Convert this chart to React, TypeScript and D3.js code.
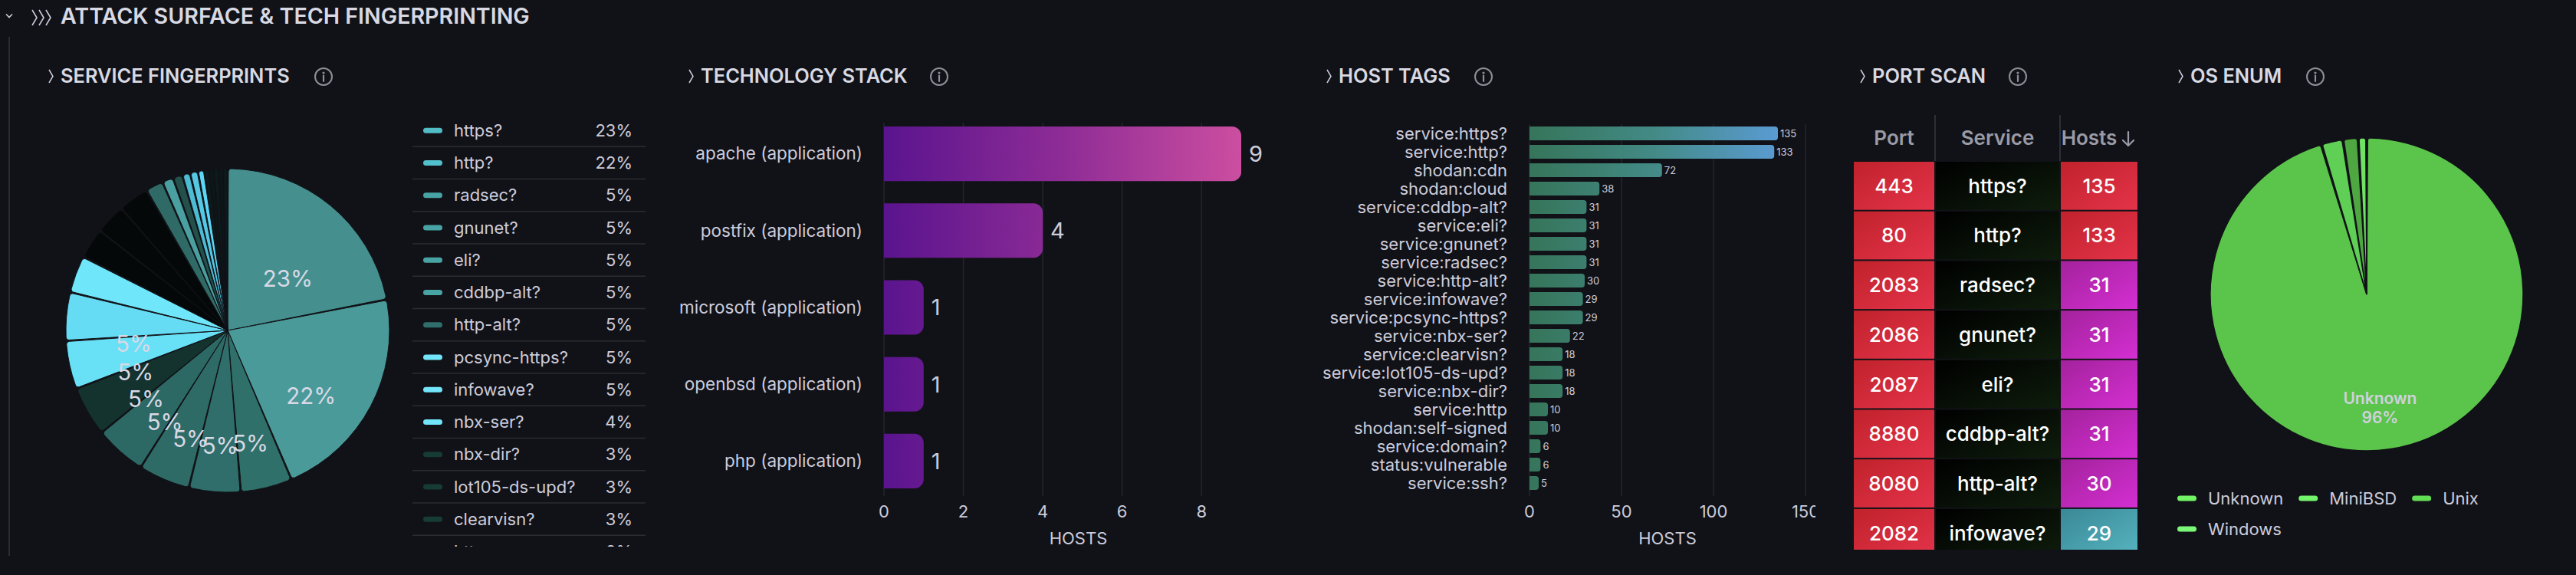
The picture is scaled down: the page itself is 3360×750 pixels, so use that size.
import React from 'react';
import * as d3 from 'd3';

// ---------------- DATA ----------------
const serviceNames = ['https?', 'http?', 'radsec?', 'gnunet?', 'eli?', 'cddbp-alt?', 'http-alt?', 'pcsync-https?', 'infowave?', 'nbx-ser?', 'nbx-dir?', 'lot105-ds-upd?', 'clearvisn?', 'http', 'domain?', 'ssh?', 'smtp?', 'imap?', 'ftp?', 'pop3?', 'mysql?', 'rdp?', 'telnet?', 'snmp?'];
const serviceCounts = [135, 133, 31, 31, 31, 31, 30, 29, 29, 22, 18, 18, 18, 10, 6, 5, 4, 4, 3, 2, 2, 2, 2, 2];

const techNames = ['apache (application)', 'postfix (application)', 'microsoft (application)', 'openbsd (application)', 'php (application)'];
const techHosts = [9, 4, 1, 1, 1];
const techTicks = [0, 2, 4, 6, 8];

const tagNames = ['service:https?', 'service:http?', 'shodan:cdn', 'shodan:cloud', 'service:cddbp-alt?', 'service:eli?', 'service:gnunet?', 'service:radsec?', 'service:http-alt?', 'service:infowave?', 'service:pcsync-https?', 'service:nbx-ser?', 'service:clearvisn?', 'service:lot105-ds-upd?', 'service:nbx-dir?', 'service:http', 'shodan:self-signed', 'service:domain?', 'status:vulnerable', 'service:ssh?'];
const tagHosts = [135, 133, 72, 38, 31, 31, 31, 31, 30, 29, 29, 22, 18, 18, 18, 10, 10, 6, 6, 5];
const tagTicks = [0, 50, 100, 150];

const portNumbers = [443, 80, 2083, 2086, 2087, 8880, 8080, 2082];
const portServices = ['https?', 'http?', 'radsec?', 'gnunet?', 'eli?', 'cddbp-alt?', 'http-alt?', 'infowave?'];
const portHosts = [135, 133, 31, 31, 31, 31, 30, 29];

const osNames = ['Unknown', 'MiniBSD', 'Unix', 'Windows'];
const osCounts = [139, 3, 2, 1];

// ---------------- STYLE ----------------
const FONT = 'Inter, "Noto Sans", sans-serif';
const BG = '#111217';
const TXT = '#ccccdc';
const TITLE = '#d8d9e3';
const GRID = '#24262c';

const servicePieColors = ['#45908e', '#4a9a9a', '#30706a', '#2f6e6a', '#2e6b67', '#2c6864', '#14322e', '#68e0f6', '#66dcf4', '#70e6fa', '#040809', '#040809', '#040809', '#2f6a66', '#4aa0a0', '#24504c', '#4cbcd4', '#55c8e4', '#5ad8f8', '#0c1c1c', '#0a1818', '#0c1c1c', '#0a1818', '#0c1c1c'];
const serviceLegendColors = ['#52bcc6', '#52c0cc', '#48a4a4', '#48a4a4', '#48a4a4', '#48a4a4', '#2f6e6a', '#73e5fa', '#73e5fa', '#73e5fa', '#173b37', '#173b37', '#173b37', '#48a4a4', '#5ab0b0', '#2f5e5a', '#5ccde6', '#62d5ee', '#6adcf6', '#173b37', '#173b37', '#173b37', '#173b37', '#173b37'];
const osPieColors = ['#5ac44b', '#5fd055', '#4ea741', '#6fe264'];
const osLegendColors = ['#72f466', '#74f46c', '#62de55', '#7cf878'];

function centerColor(c: string) {
  const h = d3.hsl(c);
  h.h = (isNaN(h.h) ? 0 : h.h) + 12;
  h.l = Math.max(0, h.l - 0.1);
  return h.formatHex();
}

let _ctx: CanvasRenderingContext2D | null = null;
function measure(t: string, font: string) {
  if (!_ctx) _ctx = document.createElement('canvas').getContext('2d');
  if (!_ctx) return t.length * 11;
  _ctx.font = font;
  return _ctx.measureText(t).width;
}

function rightRounded(x0: number, y0: number, w: number, h: number, r: number) {
  const rr = Math.min(r, w, h / 2);
  return `M${x0},${y0} H${x0 + w - rr} A${rr},${rr} 0 0 1 ${x0 + w},${y0 + rr} V${y0 + h - rr} A${rr},${rr} 0 0 1 ${x0 + w - rr},${y0 + h} H${x0} Z`;
}

function InfoIcon({ cx, cy }: { cx: number; cy: number }) {
  return (
    <g>
      <circle cx={cx} cy={cy} r={11} fill="none" stroke="#8e8e9a" strokeWidth={2} />
      <circle cx={cx} cy={cy - 5} r={1.6} fill="#8e8e9a" />
      <line x1={cx} y1={cy - 1.5} x2={cx} y2={cy + 6} stroke="#8e8e9a" strokeWidth={2.2} strokeLinecap="round" />
    </g>
  );
}

function PanelTitle({ x, label, iconX }: { x: number; label: string; iconX: number }) {
  return (
    <g>
      <path d={`M${x - 15},91 L${x - 10},99.5 L${x - 15},108`} fill="none" stroke={TXT} strokeWidth={1.5} />
      <text x={x} y={108} fontSize={25.4} fontWeight={600} fill={TITLE} fontFamily={FONT}>{label}</text>
      <InfoIcon cx={iconX} cy={100} />
    </g>
  );
}

// ---------------- SERVICE PIE ----------------
function ServicePie() {
  const cx = 297, cy = 431, R = 211;
  const total = d3.sum(serviceCounts);
  const arcs = d3.pie<number>().sort(null).value(d => d).padAngle(0.009)(serviceCounts);
  const arc = d3.arc<d3.PieArcDatum<number>>().innerRadius(0).outerRadius(R).cornerRadius(4);
  const lr = (R + R / 6) / 2;
  const fs = 29.5;
  const rowH = 42.25, row0 = 149;
  return (
    <g>
      <defs>
        {servicePieColors.map((c, i) => (
          <radialGradient key={i} id={`sp${i}`} gradientUnits="userSpaceOnUse" cx={cx} cy={cy} r={R}>
            <stop offset="0" stopColor={centerColor(c)} />
            <stop offset="1" stopColor={c} />
          </radialGradient>
        ))}
        <clipPath id="legClip"><rect x={530} y={140} width={330} height={573} /></clipPath>
      </defs>
      <g transform={`translate(${cx},${cy})`}>
        {arcs.map((a, i) => (
          <path key={i} d={arc(a) || ''} fill={`url(#sp${i})`} stroke={BG} strokeWidth={1} />
        ))}
        {arcs.map((a, i) => {
          if (a.endAngle - a.startAngle < 0.3) return null;
          const m = (a.startAngle + a.endAngle) / 2 - Math.PI / 2;
          const x = Math.cos(m) * lr, y = Math.sin(m) * lr;
          return (
            <text key={i} x={x} y={y + fs * 1.3} fontSize={fs} fill="#d8d9e6" textAnchor="middle" fontFamily={FONT}>
              {Math.round((serviceCounts[i] / total) * 100)}%
            </text>
          );
        })}
      </g>
      <g clipPath="url(#legClip)">
        {serviceNames.map((n, i) => {
          const yc = row0 + i * rowH + rowH / 2;
          return (
            <g key={n}>
              <rect x={552} y={yc - 3.5} width={25} height={7} rx={3.5} fill={serviceLegendColors[i]} />
              <text x={592} y={yc} dy="0.35em" fontSize={22} fill={TXT} fontFamily={FONT}>{n}</text>
              <text x={825} y={yc} dy="0.35em" fontSize={22} fill={TXT} textAnchor="end" fontFamily={FONT}>
                {Math.round((serviceCounts[i] / total) * 100)}%
              </text>
              <line x1={538} x2={842} y1={row0 + (i + 1) * rowH} y2={row0 + (i + 1) * rowH} stroke="#2a2c33" strokeWidth={1.5} />
            </g>
          );
        })}
      </g>
    </g>
  );
}

// ---------------- TECH STACK ----------------
function TechStack() {
  const x = d3.scaleLinear().domain([0, 9]).range([1153, 1619]);
  const y = d3.scaleBand<string>().domain(techNames).range([150, 652]).paddingInner(0.29).paddingOuter(0.15);
  const panelRight = 1660;
  return (
    <g>
      <defs>
        <linearGradient id="techGrad" gradientUnits="userSpaceOnUse" x1={x(0)} x2={x(9)} y1={0} y2={0}>
          <stop offset="0" stopColor="#5a148e" />
          <stop offset="0.5" stopColor="#8e2c96" />
          <stop offset="1" stopColor="#cc4ea0" />
        </linearGradient>
      </defs>
      {techTicks.map(t => (
        <line key={t} x1={x(t)} x2={x(t)} y1={160} y2={647} stroke={GRID} strokeWidth={1.5} />
      ))}
      {techNames.map((n, i) => {
        const y0 = y(n)!;
        const bw = x(techHosts[i]) - x(0);
        return (
          <g key={n}>
            <path d={rightRounded(x(0), y0, bw, y.bandwidth(), 12)} fill="url(#techGrad)" />
            <text x={1125} y={y0 + y.bandwidth() / 2} dy="0.35em" fontSize={22.5} fill={TXT} textAnchor="end" fontFamily={FONT}>{n}</text>
            <text x={x(techHosts[i]) + 10} y={y0 + y.bandwidth() / 2} dy="0.36em" fontSize={29} fill={TXT} fontFamily={FONT}>{techHosts[i]}</text>
          </g>
        );
      })}
      {techTicks.map(t => (
        <text key={t} x={x(t)} y={675} fontSize={22} fill={TXT} textAnchor="middle" fontFamily={FONT}>{t}</text>
      ))}
      <text x={(x(0) + panelRight) / 2} y={710} fontSize={22} fill={TXT} textAnchor="middle" fontFamily={FONT}>HOSTS</text>
    </g>
  );
}

// ---------------- HOST TAGS ----------------
function HostTags() {
  const x = d3.scaleLinear().domain([0, 150]).range([1995, 2355]);
  const y = d3.scaleBand<string>().domain(tagNames).range([162, 642]).paddingInner(0.25).paddingOuter(0.125);
  const maxV = d3.max(tagHosts) || 1;
  return (
    <g>
      <defs>
        <linearGradient id="tagGrad" gradientUnits="userSpaceOnUse" x1={x(0)} x2={x(maxV)} y1={0} y2={0}>
          <stop offset="0" stopColor="#36755a" />
          <stop offset="0.5" stopColor="#438a86" />
          <stop offset="1" stopColor="#5a9bd2" />
        </linearGradient>
        <clipPath id="tagClip"><rect x={1700} y={120} width={668} height={630} /></clipPath>
      </defs>
      <g clipPath="url(#tagClip)">
        {tagTicks.map(t => (
          <line key={t} x1={x(t)} x2={x(t)} y1={162} y2={647} stroke={GRID} strokeWidth={1.5} />
        ))}
        {tagNames.map((n, i) => {
          const y0 = y(n)!;
          return (
            <g key={n}>
              <path d={rightRounded(x(0), y0, x(tagHosts[i]) - x(0), y.bandwidth(), 4)} fill="url(#tagGrad)" />
              <text x={1966} y={y0 + y.bandwidth() / 2} dy="0.35em" fontSize={22} fill={TXT} textAnchor="end" fontFamily={FONT}>{n}</text>
              <text x={x(tagHosts[i]) + 3} y={y0 + y.bandwidth() / 2} dy="0.36em" fontSize={13} fill={TXT} fontFamily={FONT}>{tagHosts[i]}</text>
            </g>
          );
        })}
        {tagTicks.map(t => (
          <text key={t} x={x(t)} y={675} fontSize={22} fill={TXT} textAnchor="middle" fontFamily={FONT}>{t}</text>
        ))}
        <text x={(x(0) + x(150)) / 2} y={710} fontSize={22} fill={TXT} textAnchor="middle" fontFamily={FONT}>HOSTS</text>
      </g>
    </g>
  );
}

// ---------------- PORT SCAN ----------------
function hostColor(v: number): [string, string] {
  if (v >= 100) return ['#c0222b', '#e4334a'];
  if (v >= 30) return ['#a3229c', '#d42fd2'];
  return ['#3a8896', '#56b5c0'];
}

function PortScan() {
  const cols = [2417, 2524, 2687, 2789];
  const headY0 = 150, headY1 = 210;
  const rowH = 64.7;
  const rowsY = d3.range(portNumbers.length).map(i => headY1 + i * rowH);
  const allGrads: [string, [string, string]][] = [['red', ['#c0222b', '#e4334a']], ['dark', ['#000000', '#0e1d0c']], ['hi', hostColor(135)], ['mid', hostColor(31)], ['lo', hostColor(29)]];
  const hostKey = (v: number) => (v >= 100 ? 'hi' : v >= 30 ? 'mid' : 'lo');
  const cell = (c: number, r: number, key: string, label: string | number) => {
    const x0 = cols[c], x1 = cols[c + 1];
    const y0 = rowsY[r];
    return (
      <g key={`${c}-${r}`}>
        <rect x={x0 + 1} y={y0 + 1} width={x1 - x0 - 2} height={rowH - 2} fill={`url(#pg-${key})`} />
        <text x={(x0 + x1) / 2} y={y0 + rowH / 2} dy="0.36em" fontSize={26} fontWeight={500} fill="#ffffff" textAnchor="middle" fontFamily={FONT}>{label}</text>
      </g>
    );
  };
  return (
    <g>
      <defs>
        {allGrads.map(([k, [a, b]]) => (
          <linearGradient key={k} id={`pg-${k}`} x1="0" y1="0" x2="1" y2="1">
            <stop offset="0" stopColor={a} />
            <stop offset="1" stopColor={b} />
          </linearGradient>
        ))}
        <clipPath id="portClip"><rect x={2400} y={140} width={400} height={577} /></clipPath>
      </defs>
      <line x1={cols[1]} x2={cols[1]} y1={headY0} y2={headY1} stroke="#2c2e36" strokeWidth={2} />
      <line x1={cols[2]} x2={cols[2]} y1={headY0} y2={headY1} stroke="#2c2e36" strokeWidth={2} />
      <text x={(cols[0] + cols[1]) / 2} y={(headY0 + headY1) / 2} dy="0.36em" fontSize={26} fontWeight={600} fill="#9a9ba6" textAnchor="middle" fontFamily={FONT}>Port</text>
      <text x={(cols[1] + cols[2]) / 2} y={(headY0 + headY1) / 2} dy="0.36em" fontSize={26} fontWeight={600} fill="#9a9ba6" textAnchor="middle" fontFamily={FONT}>Service</text>
      <text x={(cols[2] + cols[3]) / 2 - 13} y={(headY0 + headY1) / 2} dy="0.36em" fontSize={26} fontWeight={600} fill="#9a9ba6" textAnchor="middle" fontFamily={FONT}>Hosts</text>
      <path d={`M2776,172 V190 M2769,183 L2776,190 L2783,183`} fill="none" stroke="#9a9ba6" strokeWidth={2.2} strokeLinecap="round" strokeLinejoin="round" />
      <g clipPath="url(#portClip)">
        {portNumbers.map((p, r) => (
          <g key={p}>
            {cell(0, r, 'red', p)}
            {cell(1, r, 'dark', portServices[r])}
            {cell(2, r, hostKey(portHosts[r]), portHosts[r])}
          </g>
        ))}
      </g>
    </g>
  );
}

// ---------------- OS ENUM ----------------
function OsPie() {
  const cx = 3087, cy = 384, R = 204;
  const total = d3.sum(osCounts);
  const arcs = d3.pie<number>().sort(null).value(d => d).padAngle(0.012)(osCounts);
  const arc = d3.arc<d3.PieArcDatum<number>>().innerRadius(0).outerRadius(R).cornerRadius(3);
  const lr = (R + R / 6) / 2;
  const fs = 21;
  const legFont = `22px ${FONT}`;
  let lx = 2840, ly = 650;
  const items = osNames.map((n, i) => {
    const w = 25 + 15 + measure(n, legFont);
    if (lx + w > 3340) { lx = 2840; ly += 40; }
    const it = { n, i, x: lx, y: ly };
    lx += w + 20;
    return it;
  });
  return (
    <g>
      <defs>
        {osPieColors.map((c, i) => (
          <radialGradient key={i} id={`op${i}`} gradientUnits="userSpaceOnUse" cx={cx} cy={cy} r={R}>
            <stop offset="0" stopColor={d3.hsl(c).darker(0.35).formatHex()} />
            <stop offset="1" stopColor={c} />
          </radialGradient>
        ))}
      </defs>
      <g transform={`translate(${cx},${cy})`}>
        {arcs.map((a, i) => (
          <path key={i} d={arc(a) || ''} fill={`url(#op${i})`} stroke={BG} strokeWidth={1.5} />
        ))}
        {arcs.map((a, i) => {
          if (a.endAngle - a.startAngle < 0.3) return null;
          const m = (a.startAngle + a.endAngle) / 2 - Math.PI / 2;
          const x = Math.cos(m) * lr, y = Math.sin(m) * lr;
          return (
            <text key={i} x={x} y={y} dy="0.33em" fontSize={fs} fontWeight={600} fill="#d0d1dc" textAnchor="middle" fontFamily={FONT}>
              <tspan x={x} dy="1.2em">{osNames[i]}</tspan>
              <tspan x={x} dy="1.2em">{Math.round((osCounts[i] / total) * 100)}%</tspan>
            </text>
          );
        })}
      </g>
      {items.map(it => (
        <g key={it.n}>
          <rect x={it.x} y={it.y - 3.5} width={25} height={7} rx={3.5} fill={osLegendColors[it.i]} />
          <text x={it.x + 40} y={it.y} dy="0.35em" fontSize={22} fill={TXT} fontFamily={FONT}>{it.n}</text>
        </g>
      ))}
    </g>
  );
}

export default function App() {
  return (
    <svg width={3360} height={750} viewBox="0 0 3360 750" style={{ position: 'absolute', left: 0, top: 0, display: 'block', background: BG }}>
      <rect x={0} y={0} width={3360} height={750} fill={BG} />
      <path d="M8,18.5 L12,22.5 L16,18.5" fill="none" stroke={TXT} strokeWidth={1.6} />
      {[42, 51, 60].map(px => (
        <path key={px} d={`M${px},13 L${px + 6},23 L${px},33`} fill="none" stroke={TXT} strokeWidth={1.6} />
      ))}
      <text x={79} y={31} fontSize={28.6} fontWeight={600} fill={TITLE} fontFamily={FONT}>ATTACK SURFACE &amp; TECH FINGERPRINTING</text>
      <line x1={12} x2={12} y1={48} y2={725} stroke="#2a2c33" strokeWidth={2} />

      <PanelTitle x={79} label="SERVICE FINGERPRINTS" iconX={422} />
      <PanelTitle x={914} label="TECHNOLOGY STACK" iconX={1225} />
      <PanelTitle x={1746} label="HOST TAGS" iconX={1935} />
      <PanelTitle x={2442} label="PORT SCAN" iconX={2632} />
      <PanelTitle x={2857} label="OS ENUM" iconX={3020} />

      <ServicePie />
      <TechStack />
      <HostTags />
      <PortScan />
      <OsPie />
    </svg>
  );
}
